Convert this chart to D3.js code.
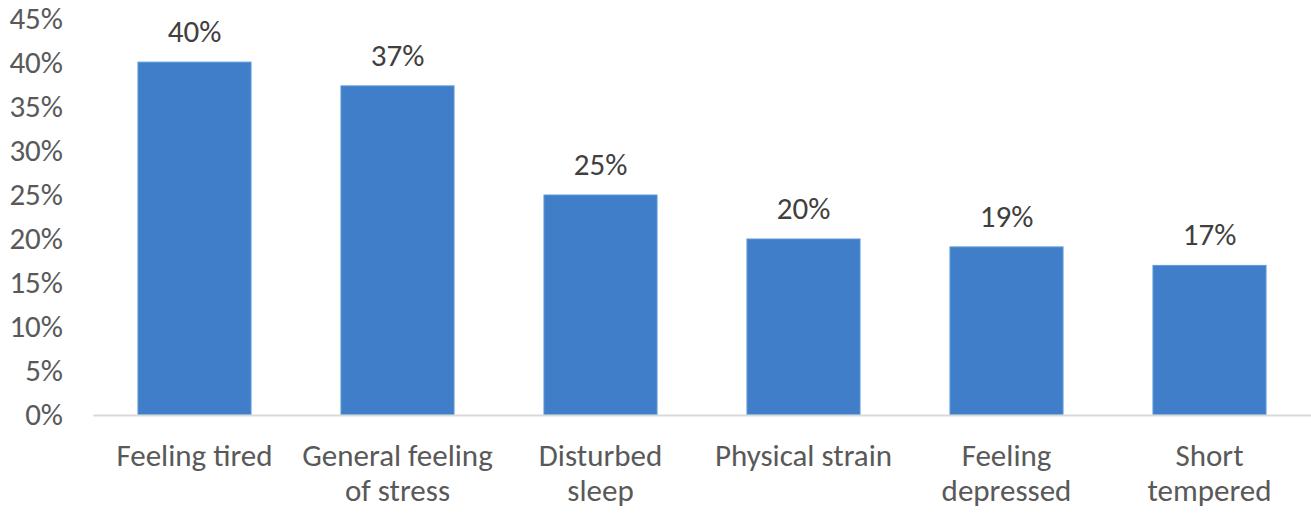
<!DOCTYPE html>
<html>
<head>
<meta charset="utf-8">
<script src="https://cdn.jsdelivr.net/npm/d3@7"></script>
<style>
    body { margin: 0; background: #fff; }
    svg { display: block; font-family: Carlito, Calibri, Lato, sans-serif; }
</style>
</head>
<body>
<div id="chart"></div>
<script>
// Chart data
const categories = ['Feeling tired', 'General feeling\nof stress', 'Disturbed\nsleep', 'Physical strain', 'Feeling\ndepressed', 'Short\ntempered'];
const values = [40.1, 37.4, 25.0, 20.0, 19.1, 17.0];
const yTicks = [0, 5, 10, 15, 20, 25, 30, 35, 40, 45];

const width = 1311, height = 513;
const margin = { left: 93, right: 0, top: 19, bottom: 98 };
const fontSize = '31px';

const svg = d3.select('#chart')
    .append('svg')
    .attr('width', width)
    .attr('height', height);

const x = d3.scaleBand()
    .domain(categories)
    .range([margin.left, width - margin.right])
    .paddingInner(0.443)
    .paddingOuter(0.2215);

const y = d3.scaleLinear()
    .domain([0, 45])
    .range([height - margin.bottom, margin.top]);

// Y axis labels (no line, no ticks)
const yAxis = svg.append('g')
    .attr('transform', `translate(${margin.left},0)`)
    .call(d3.axisLeft(y).tickValues(yTicks).tickFormat(d => d + '%').tickSize(0).tickPadding(30));
yAxis.attr('font-family', null).attr('font-size', null);
yAxis.select('.domain').remove();
yAxis.selectAll('text')
    .attr('fill', '#595959')
    .style('font-size', fontSize);

// Bars
svg.append('g')
    .selectAll('rect')
    .data(values)
    .join('rect')
    .attr('x', (d, i) => x(categories[i]))
    .attr('y', d => y(d))
    .attr('width', x.bandwidth())
    .attr('height', d => y(0) - y(d))
    .attr('fill', '#407ec9')
    .attr('stroke', '#5b9bd5')
    .attr('stroke-width', 1);

// X axis line + wrapped category labels
const xAxis = svg.append('g')
    .attr('transform', `translate(0,${y(0)})`)
    .call(d3.axisBottom(x).tickSize(0).tickFormat(''));
xAxis.attr('font-family', null).attr('font-size', null);
xAxis.select('.domain').attr('stroke', '#d9d9d9').attr('stroke-width', 2);
xAxis.selectAll('.tick text').remove();
xAxis.selectAll('.tick').each(function (d) {
    const t = d3.select(this).append('text')
        .attr('fill', '#595959')
        .attr('text-anchor', 'middle')
        .style('font-size', fontSize);
    d.split('\n').forEach((line, i) => {
        t.append('tspan').attr('x', 0).attr('y', 51 + i * 35).text(line);
    });
});

// Data labels
svg.append('g')
    .selectAll('text')
    .data(values)
    .join('text')
    .attr('x', (d, i) => x(categories[i]) + x.bandwidth() / 2)
    .attr('y', d => y(d) - 20)
    .attr('text-anchor', 'middle')
    .attr('fill', '#404040')
    .style('font-size', fontSize)
    .text(d => Math.round(d) + '%');
</script>
</body>
</html>
